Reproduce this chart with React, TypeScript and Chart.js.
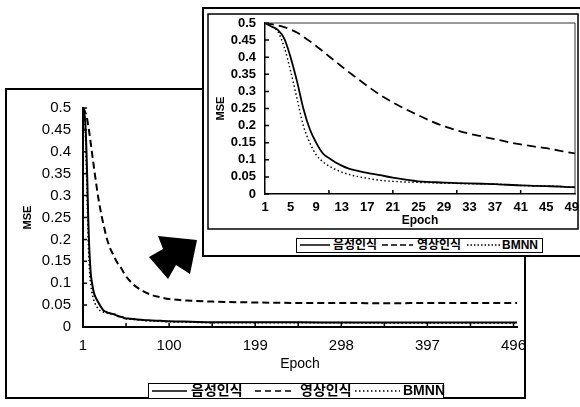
import React, { useEffect, useRef } from "react";
import { Chart, registerables } from "chart.js";
Chart.register(...registerables);

// ---- data ----
const epochs = [1, 2, 3, 4, 5, 6, 7, 8, 9, 10, 11, 12, 13, 14, 15, 17, 19, 21, 23, 25, 27, 29, 31, 33, 35, 37, 39, 41, 43, 45, 47, 49, 55, 60, 70, 80, 90, 100, 125, 150, 200, 250, 300, 350, 400, 450, 500];
// 음성인식
const speech = [0.5, 0.49, 0.48, 0.455, 0.4, 0.33, 0.25, 0.19, 0.15, 0.12, 0.105, 0.093, 0.083, 0.075, 0.07,
  0.062, 0.055, 0.048, 0.042, 0.037, 0.035, 0.033, 0.032, 0.031, 0.03, 0.029, 0.027, 0.025, 0.024, 0.023, 0.022, 0.02,
  0.019, 0.018, 0.016, 0.015, 0.014, 0.013, 0.012, 0.011,
  0.011, 0.011, 0.01, 0.01, 0.01, 0.01, 0.01];
// 영상인식
const image = [0.5, 0.497, 0.493, 0.488, 0.481, 0.472, 0.46, 0.447, 0.433, 0.418, 0.403, 0.388, 0.373, 0.358, 0.344,
  0.316, 0.29, 0.268, 0.248, 0.23, 0.213, 0.198, 0.186, 0.176, 0.168, 0.16, 0.152, 0.145, 0.139, 0.134, 0.127, 0.12,
  0.105, 0.095, 0.082, 0.073, 0.068, 0.064, 0.06, 0.058,
  0.056, 0.055, 0.055, 0.054, 0.055, 0.055, 0.055];
// BMNN
const bmnn = [0.5, 0.49, 0.475, 0.43, 0.36, 0.28, 0.2, 0.15, 0.115, 0.095, 0.082, 0.072, 0.064, 0.058, 0.053,
  0.046, 0.04, 0.037, 0.035, 0.034, 0.033, 0.032, 0.031, 0.03, 0.03, 0.029, 0.027, 0.025, 0.024, 0.023, 0.022, 0.02,
  0.018, 0.017, 0.015, 0.014, 0.013, 0.012, 0.011, 0.01,
  0.01, 0.01, 0.01, 0.009, 0.009, 0.009, 0.009];

const seriesNames = ["음성인식", "영상인식", "BMNN"];
const yTicks = [0, 0.05, 0.1, 0.15, 0.2, 0.25, 0.3, 0.35, 0.4, 0.45, 0.5];
const bigXTicks = [1, 100, 199, 298, 397, 496];
const bigXMarks = [50.5, 100, 149.5, 199, 248.5, 298, 347.5, 397, 446.5, 496];
const insetXTicks = [1, 5, 9, 13, 17, 21, 25, 29, 33, 37, 41, 45, 49];
const insetXMarks = [11, 21, 31, 41];
const xTitle = "Epoch";
const yTitle = "MSE";

const FONT = "'Liberation Sans', Arial, 'Noto Sans CJK KR', sans-serif";

const pts = (ys: number[]) => epochs.map((x, i) => ({ x, y: ys[i] }));

function makeDatasets(lw: number, dash: number[]) {
  return [
    { label: seriesNames[1], data: pts(image), borderColor: "#000", borderWidth: lw, borderDash: dash, pointRadius: 0, fill: false, cubicInterpolationMode: "monotone" as const },
    { label: seriesNames[0], data: pts(speech), borderColor: "#000", borderWidth: lw, borderDash: [], pointRadius: 0, fill: false, cubicInterpolationMode: "monotone" as const },
    { label: seriesNames[2], data: pts(bmnn), borderColor: "#000", borderWidth: lw * 0.8, borderDash: [1.5, 2.5], pointRadius: 0, fill: false, cubicInterpolationMode: "monotone" as const },
  ];
}

function decoPlugin(opts: { marks: number[]; frame: (ctx: CanvasRenderingContext2D, c: any) => void }) {
  return {
    id: "deco",
    afterDraw(chart: any) {
      const ctx = chart.ctx as CanvasRenderingContext2D;
      const { left, bottom } = chart.chartArea;
      const xs = chart.scales.x, ys = chart.scales.y;
      ctx.save();
      ctx.strokeStyle = "#000";
      ctx.lineWidth = 1.5;
      ctx.beginPath();
      yTicks.forEach((v) => {
        const py = ys.getPixelForValue(v);
        ctx.moveTo(left, py);
        ctx.lineTo(left + 4, py);
      });
      opts.marks.forEach((v) => {
        const px = xs.getPixelForValue(v);
        ctx.moveTo(px, bottom);
        ctx.lineTo(px, bottom - 4);
      });
      ctx.stroke();
      opts.frame(ctx, chart);
      ctx.restore();
    },
  };
}

function baseScales(tickFont: any, titleFont: any, x: any, y: any) {
  return {
    x: {
      type: "linear" as const,
      min: x.min,
      max: x.max,
      grid: { display: false, drawTicks: false },
      border: { display: true, color: "#000", width: x.bw },
      afterBuildTicks: (s: any) => { s.ticks = x.ticks.map((value: number) => ({ value })); },
      afterFit: (s: any) => { s.height = x.height; s.paddingLeft = 0; s.paddingRight = 0; },
      ticks: { autoSkip: false, maxRotation: 0, minRotation: 0, color: "#000", font: tickFont, padding: x.tickPad, callback: (v: any) => String(v) },
      title: { display: true, text: xTitle, color: "#000", font: titleFont, padding: { top: 0, bottom: 0 } },
    },
    y: {
      type: "linear" as const,
      min: 0,
      max: 0.5,
      grid: { display: false, drawTicks: false },
      border: { display: true, color: "#000", width: y.bw },
      afterBuildTicks: (s: any) => { s.ticks = yTicks.map((value) => ({ value })); },
      afterFit: (s: any) => { s.width = y.width; s.paddingTop = 0; s.paddingBottom = 0; },
      ticks: { autoSkip: false, color: "#000", font: tickFont, padding: y.tickPad, callback: (v: any) => String(v) },
      title: { display: true, text: yTitle, color: "#000", font: { family: FONT, size: 11, weight: "bold" as const }, padding: { top: y.titlePad, bottom: 0 } },
    },
  };
}

function LineSample({ w, dash, lw }: { w: number; dash: string; lw: number }) {
  return (
    <svg width={w} height={6} style={{ display: "block" }}>
      <line x1={0} y1={3} x2={w} y2={3} stroke="#000" strokeWidth={lw} strokeDasharray={dash} />
    </svg>
  );
}

function Legend(props: {
  left: number; top: number; width: number; height: number; fontSize: number;
  items: { x: number; w: number; dash: string; lw: number; tx: number; text: string }[];
}) {
  const { left, top, width, height, fontSize, items } = props;
  return (
    <div style={{ position: "absolute", left, top, width, height, boxSizing: "border-box", border: "1.5px solid #000", background: "#fff" }}>
      {items.map((it, i) => (
        <React.Fragment key={i}>
          <div style={{ position: "absolute", left: it.x, top: (height - 3) / 2 - 3 }}>
            <LineSample w={it.w} dash={it.dash} lw={it.lw} />
          </div>
          <div style={{ position: "absolute", left: it.tx, top: 0, height: height - 3, lineHeight: `${height - 3}px`, fontFamily: FONT, fontWeight: "bold", fontSize, color: "#000", whiteSpace: "nowrap" }}>
            {it.text}
          </div>
        </React.Fragment>
      ))}
    </div>
  );
}

export default function App() {
  const bigRef = useRef<HTMLCanvasElement>(null);
  const insetRef = useRef<HTMLCanvasElement>(null);

  useEffect(() => {
    const BIG_X = 5, BIG_Y = 88;
    const arrow = [[158, 236], [197, 240], [190, 274], [176, 265], [168, 279], [149, 257], [163, 249]];
    const big = new Chart(bigRef.current!, {
      type: "line",
      data: { datasets: makeDatasets(2, [7, 4]) as any },
      options: {
        responsive: false,
        animation: false,
        devicePixelRatio: 1,
        layout: { padding: { left: 0, top: 20, right: 9, bottom: 26 } },
        plugins: { legend: { display: false }, tooltip: { enabled: false } },
        scales: baseScales(
          { family: FONT, size: 15 },
          { family: FONT, size: 14 },
          { min: 1, max: 500, ticks: bigXTicks, height: 46, tickPad: 10, bw: 2 },
          { width: 78, tickPad: 12, titlePad: 16, bw: 2 }
        ) as any,
      },
      plugins: [
        decoPlugin({
          marks: bigXMarks,
          frame: (ctx, c) => {
            ctx.lineWidth = 2;
            ctx.strokeRect(1, 1, c.width - 2, c.height - 2);
            ctx.fillStyle = "#000";
            ctx.beginPath();
            arrow.forEach(([x, y], i) => {
              if (i === 0) ctx.moveTo(x - BIG_X, y - BIG_Y);
              else ctx.lineTo(x - BIG_X, y - BIG_Y);
            });
            ctx.closePath();
            ctx.fill();
          },
        }),
      ],
    });

    const inset = new Chart(insetRef.current!, {
      type: "line",
      data: { datasets: makeDatasets(1.8, [9, 5]) as any },
      options: {
        responsive: false,
        animation: false,
        devicePixelRatio: 1,
        layout: { padding: { left: 0, top: 16, right: 5, bottom: 29 } },
        plugins: { legend: { display: false }, tooltip: { enabled: false } },
        scales: baseScales(
          { family: FONT, size: 13, weight: "bold" },
          { family: FONT, size: 12, weight: "bold" },
          { min: 1, max: 49.5, ticks: insetXTicks, height: 34, tickPad: 6, bw: 1.5 },
          { width: 63, tickPad: 9, titlePad: 12, bw: 1.5 }
        ) as any,
      },
      plugins: [
        decoPlugin({
          marks: insetXMarks,
          frame: (ctx, c) => {
            const { left, top, right, bottom } = c.chartArea;
            ctx.lineWidth = 1;
            ctx.strokeStyle = "#333";
            ctx.beginPath();
            ctx.moveTo(left, top);
            ctx.lineTo(right, top);
            ctx.lineTo(right, bottom);
            ctx.stroke();
            ctx.strokeStyle = "#000";
            ctx.lineWidth = 2;
            ctx.strokeRect(1, 1, c.width + 20, c.height - 2);
            ctx.lineWidth = 1.5;
            ctx.strokeRect(6, 7, 370, 215);
          },
        }),
      ],
    });

    return () => {
      big.destroy();
      inset.destroy();
    };
  }, []);

  return (
    <div style={{ position: "fixed", left: 0, top: 0, width: 580, height: 407, background: "#fff", overflow: "hidden" }}>
      <canvas ref={bigRef} width={521} height={311} style={{ position: "absolute", left: 5, top: 88, width: 521, height: 311 }} />
      <Legend
        left={148} top={383} width={296} height={16} fontSize={14}
        items={[
          { x: 3, w: 35, dash: "", lw: 1.5, tx: 42, text: seriesNames[0] },
          { x: 106, w: 40, dash: "6 4", lw: 1.5, tx: 151, text: seriesNames[1] },
          { x: 206, w: 45, dash: "1.5 2.5", lw: 1.3, tx: 254, text: seriesNames[2] },
        ]}
      />
      <canvas ref={insetRef} width={378} height={250} style={{ position: "absolute", left: 202, top: 7, width: 378, height: 250, background: "#fff" }} />
      <Legend
        left={296} top={238} width={247} height={15} fontSize={12}
        items={[
          { x: 3, w: 30, dash: "", lw: 1.5, tx: 36, text: seriesNames[0] },
          { x: 85, w: 31, dash: "6 3", lw: 1.5, tx: 120, text: seriesNames[1] },
          { x: 170, w: 33, dash: "1.5 2", lw: 1.3, tx: 205, text: seriesNames[2] },
        ]}
      />
    </div>
  );
}
